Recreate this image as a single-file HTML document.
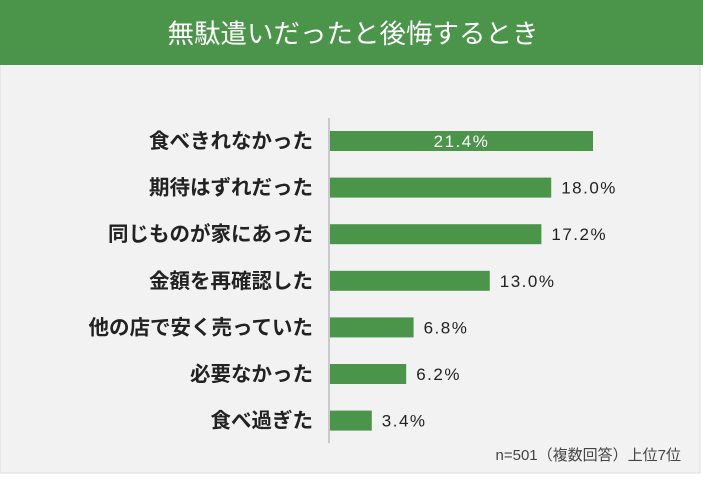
<!DOCTYPE html>
<html><head><meta charset="utf-8"><style>
body{margin:0;width:703px;height:476px;background:#fff;font-family:"Liberation Sans","Noto Sans CJK JP",sans-serif;overflow:hidden}
</style></head><body>
<svg width="703" height="476" xmlns="http://www.w3.org/2000/svg">
<rect x="0" y="64" width="700" height="409" fill="#f2f2f2" stroke="#dcdcdc"/>
<rect x="0" y="0" width="703" height="65" fill="#4a954a"/>
<text x="353" y="43" text-anchor="middle" fill="#fff" font-size="26.5" font-family="Noto Sans CJK JP,sans-serif">無駄遣いだったと後悔するとき</text>
<line x1="329" y1="118" x2="329" y2="443" stroke="#bbb" stroke-width="1.5"/>
<g id="bars"></g>
<text x="681" y="460" text-anchor="end" fill="#444" font-size="15">n=501（複数回答）上位7位</text>
</svg>
<script>
const categories=["食べきれなかった","期待はずれだった","同じものが家にあった","金額を再確認した","他の店で安く売っていた","必要なかった","食べ過ぎた"];
const values=[21.4,18.0,17.2,13.0,6.8,6.2,3.4];
const valueLabels=["21.4%","18.0%","17.2%","13.0%","6.8%","6.2%","3.4%"];
const x0=330, scale=12.29, yTop=141, step=46.6, bh=20;
const xPos=v=>x0+v*scale;
const yPos=i=>yTop+i*step;
const g=document.getElementById('bars');
const NS="http://www.w3.org/2000/svg";
categories.forEach((c,i)=>{
  const cy=yPos(i);
  const r=document.createElementNS(NS,'rect');
  r.setAttribute('x',x0);r.setAttribute('y',cy-bh/2);
  r.setAttribute('width',xPos(values[i])-x0);r.setAttribute('height',bh);
  r.setAttribute('fill','#4a954a');
  
  
  g.appendChild(r);
  const t=document.createElementNS(NS,'text');
  t.setAttribute('x',313);t.setAttribute('y',cy+7);
  t.setAttribute('text-anchor','end');t.setAttribute('font-size','20.5');
  t.setAttribute('font-weight','bold');t.setAttribute('fill','#222');
  t.textContent=c;
  
  
  g.appendChild(t);
  const v=document.createElementNS(NS,'text');
  const inside=i===0;
  v.setAttribute('x',inside?(x0+xPos(values[i]))/2:xPos(values[i])+10);
  v.setAttribute('y',cy+6);
  v.setAttribute('text-anchor',inside?'middle':'start');
  v.setAttribute('font-size','17');
  v.setAttribute('letter-spacing','1.5');
  v.setAttribute('fill',inside?'#fff':'#222');
  v.textContent=valueLabels[i];
  
  
  g.appendChild(v);
});
</script>
</body></html>
